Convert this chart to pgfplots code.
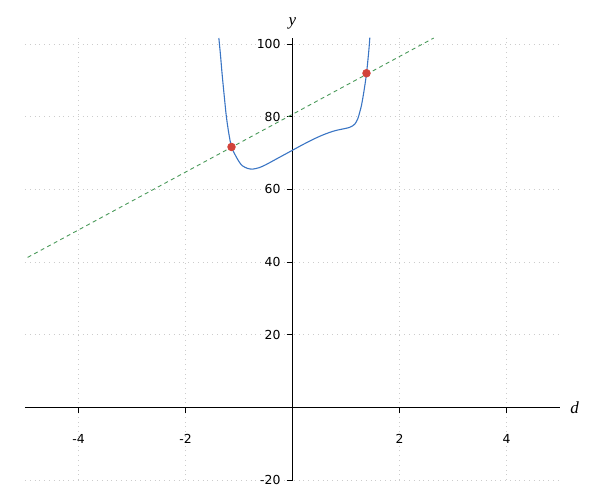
\documentclass[border=0pt]{standalone}
\usepackage{pgfplots}
\pgfplotsset{compat=1.18}
\usepackage{fontspec}
\setmainfont{DejaVu Sans}
\newfontfamily\lserif{Liberation Serif}
\definecolor{cblue}{HTML}{3A75C4}
\definecolor{cgreen}{HTML}{4A9A5A}
\definecolor{cred}{HTML}{D2433A}
\begin{document}
\begin{tikzpicture}
\useasboundingbox (0,0) rectangle (300pt,250pt);
\begin{axis}[
  at={(12.5pt,10pt)}, anchor=south west,
  scale only axis, width=267.5pt, height=221pt,
  xmin=-5, xmax=5, ymin=-20, ymax=101.7,
  axis lines=middle,
  axis line style={black, line width=0.5pt, -},
  xtick={-4,-2,2,4}, xticklabels={-4,-2,2,4},
  ytick={-20,20,40,60,80,100}, yticklabels={-20,20,40,60,80,100},
  tick align=outside, major tick length=3pt,
  tick style={black, line width=0.5pt},
  ticklabel style={font=\fontsize{6.2}{7}\selectfont},
  xticklabel style={yshift=-7pt},
  yticklabel style={xshift=0.5pt},
  grid=major,
  grid style={gray!40, dotted, line width=0.4pt},
  clip=false,
  xlabel={{\lserif\itshape d}}, ylabel={{\lserif\itshape y}},
  every axis x label/.style={at={(axis cs:5,0)}, anchor=west, inner sep=0pt, xshift=5pt, font=\fontsize{8.5}{9}\selectfont},
  every axis y label/.style={at={(axis cs:0,101.7)}, anchor=south, inner sep=0pt, yshift=4pt, font=\fontsize{8.5}{9}\selectfont},
]
\addplot[cgreen, line width=0.45pt, dash pattern=on 2pt off 1.7pt] coordinates {(-4.95,41.3) (2.64,101.7)};
\addplot[cblue, line width=0.55pt, smooth] coordinates {
(-1.377,101.7) (-1.346,97.0) (-1.314,91.5) (-1.265,84.1) (-1.234,79.8) (-1.19,75.4) (-1.14,71.7)
(-1.06,69.2) (-0.997,67.6) (-0.935,66.5) (-0.84,65.8) (-0.748,65.6) (-0.623,66.0) (-0.5,66.8)
(-0.387,67.7) (-0.2,69.2) (0,70.8) (0.2,72.4)
(0.4,73.9) (0.6,75.2) (0.80,76.2) (0.99,76.8) (1.084,77.2) (1.165,78.0) (1.221,79.5) (1.259,81.4) (1.29,83.2)
(1.335,87.0) (1.383,91.9) (1.427,98.3) (1.445,101.8)};
\addplot[only marks, mark=*, mark size=1.9pt, cred, mark options={draw=cred, fill=cred}] coordinates {(-1.14,71.7) (1.383,92.0)};
\end{axis}
\end{tikzpicture}
\end{document}
